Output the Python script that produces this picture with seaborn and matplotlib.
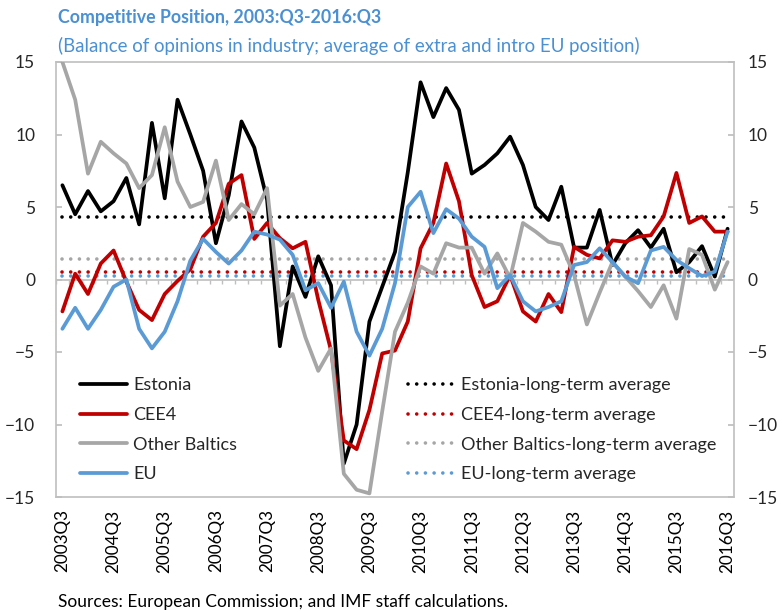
import numpy as np
import pandas as pd
import matplotlib
matplotlib.use('Agg')
import matplotlib.pyplot as plt
import seaborn as sns
from matplotlib.lines import Line2D

# quarters 2003Q3 .. 2016Q3
years = list(range(2003, 2017))
quarters = [f'{y}Q{q}' for y in years for q in range(1, 5)][2:-1]
tick_labels = [f'{y}Q3' for y in years]

estonia = [6.5, 4.5, 6.1, 4.7, 5.4, 7.0, 3.8, 10.8, 5.6, 12.4, 10.0, 7.5, 2.5, 5.8,
           10.9, 9.1, 5.5, -4.6, 0.9, -1.2, 1.6, -0.4, -12.7, -10.0, -2.9, -0.5, 1.9,
           7.4, 13.6, 11.2, 13.2, 11.7, 7.3, 7.9, 8.7, 9.85, 7.9, 5.0, 4.1, 6.4, 2.2,
           2.2, 4.8, 1.0, 2.5, 3.4, 2.2, 3.5, 0.5, 1.2, 2.3, 0.2, 3.5]
cee4 = [-2.2, 0.4, -1.0, 1.1, 2.0, -0.15, -2.1, -2.8, -1.0, -0.1, 0.7, 2.95, 3.9, 6.6,
        7.2, 2.8, 3.9, 2.85, 2.15, 2.6, -1.4, -4.9, -11.1, -11.7, -9.0, -5.1, -4.9,
        -2.9, 2.15, 3.9, 8.0, 5.4, 0.3, -1.9, -1.5, 0.3, -2.2, -2.9, -1.0, -2.25, 2.25,
        1.7, 1.45, 2.7, 2.6, 2.95, 3.05, 4.35, 7.35, 3.9, 4.35, 3.3, 3.3]
other_baltics = [15.0, 12.4, 7.3, 9.5, 8.7, 8.0, 6.3, 7.2, 10.5, 6.75, 5.0, 5.35, 8.2,
                 4.1, 5.2, 4.5, 6.3, -1.8, -1.0, -4.0, -6.3, -4.75, -13.4, -14.5, -14.75,
                 -9.1, -3.6, -1.6, 0.9, 0.4, 2.5, 2.2, 2.2, 0.4, 1.8, 0.1, 3.9, 3.3, 2.6,
                 2.4, 0.3, -3.1, -0.9, 1.2, 0.2, -0.8, -1.9, -0.4, -2.7, 2.1, 1.7, -0.7, 1.2]
eu = [-3.4, -1.95, -3.4, -2.1, -0.5, 0.0, -3.4, -4.75, -3.6, -1.5, 1.3, 2.8, 1.9, 1.1,
      2.0, 3.3, 3.1, 2.75, 1.7, -0.75, -0.25, -1.95, -0.15, -3.6, -5.25, -3.4, -0.25,
      5.0, 6.05, 3.2, 4.85, 4.2, 2.95, 2.25, -0.6, 0.3, -1.5, -2.2, -1.9, -1.5, 1.0,
      1.2, 2.15, 1.2, 0.2, -0.26, 2.0, 2.25, 1.35, 0.77, 0.24, 0.54, 3.3]

series_names = ['Estonia', 'CEE4', 'Other Baltics', 'EU']
long_term_avg = [4.3, 0.55, 1.4, 0.25]
colors = ['#000000', '#C00000', '#A6A6A6', '#5B9BD5']

blue_title = '#4A90D2'
grid_grey = '#BFBFBF'

sns.set_theme(style='white')
plt.rcParams['font.family'] = ['Lato', 'DejaVu Sans']

df = pd.DataFrame({'quarter': quarters, 'idx': range(len(quarters)),
                   'Estonia': estonia, 'CEE4': cee4,
                   'Other Baltics': other_baltics, 'EU': eu})
long_df = df.melt(id_vars=['quarter', 'idx'], value_vars=series_names,
                  var_name='series', value_name='value')

fig = plt.figure(figsize=(7.82, 6.13), dpi=100)
ax = fig.add_axes([56 / 782, 1 - 497 / 613, 678 / 782, 435 / 613])

n = len(quarters)

# long-term averages (dotted)
for avg, c in zip(long_term_avg, colors):
    ax.hlines(avg, 0, n - 1, colors=c, linewidth=2.6,
              linestyles=[(0, (0.01, 2.4))], capstyle='round', zorder=2)

# zero line with category ticks
ax.axhline(0, color=grid_grey, linewidth=1.2, zorder=1)
ax.vlines(np.arange(n + 1) - 0.5, -0.3, 0, color=grid_grey, linewidth=1, zorder=1)

sns.lineplot(data=long_df, x='idx', y='value', hue='series', hue_order=series_names,
             palette=dict(zip(series_names, colors)), linewidth=2.7, legend=False,
             ax=ax, zorder=3)

ax.set_xlim(-0.5, n - 0.5)
ax.set_ylim(-15, 15)
ax.set_yticks(range(-15, 16, 5))
ax.set_xticks([quarters.index(t) for t in tick_labels])
ax.set_xticklabels(tick_labels, rotation=90, fontsize=12.3)
ax.set_xlabel('')
ax.set_ylabel('')
ax.tick_params(axis='x', length=0, pad=9, colors='black')
ax.tick_params(axis='y', direction='in', length=4, color=grid_grey, labelsize=12.5,
               pad=15, left=True)
for sp in ax.spines.values():
    sp.set_color(grid_grey)
    sp.set_linewidth(1.2)

# right-hand axis repeats the scale
ax2 = ax.twinx()
ax2.set_ylim(ax.get_ylim())
ax2.set_yticks(range(-15, 16, 5))
ax2.tick_params(axis='y', direction='in', length=4, color=grid_grey, labelsize=12.5,
                pad=10)
ax2.grid(False)
for sp in ax2.spines.values():
    sp.set_visible(False)

# legends
h1 = [Line2D([], [], color=c, linewidth=2.7) for c in colors]
h2 = [Line2D([], [], color=c, linewidth=2.6, linestyle=(0, (0.01, 2.4)),
             dash_capstyle='round') for c in colors]
leg_kw = dict(frameon=False, fontsize=13, handlelength=2.6, handletextpad=0.35,
              labelspacing=0.76, borderaxespad=0, loc='upper left')
leg1 = ax.legend(h1, series_names, bbox_to_anchor=(0.025, 0.292), **leg_kw)
ax.add_artist(leg1)
ax.legend(h2, [f'{s}-long-term average' for s in series_names],
          bbox_to_anchor=(0.508, 0.292), **leg_kw)

fig.text(58 / 782, 1 - 17 / 613, 'Competitive Position, 2003:Q3-2016:Q3',
         color=blue_title, fontsize=12.8, fontweight='bold', va='center')
fig.text(58 / 782, 1 - 46 / 613,
         '(Balance of opinions in industry; average of extra and intro EU position)',
         color=blue_title, fontsize=13.4, va='center')
fig.text(58 / 782, 1 - 602 / 613,
         'Sources: European Commission; and IMF staff calculations.',
         color='black', fontsize=12.5, va='center')

fig.savefig('out.png', dpi=100)
